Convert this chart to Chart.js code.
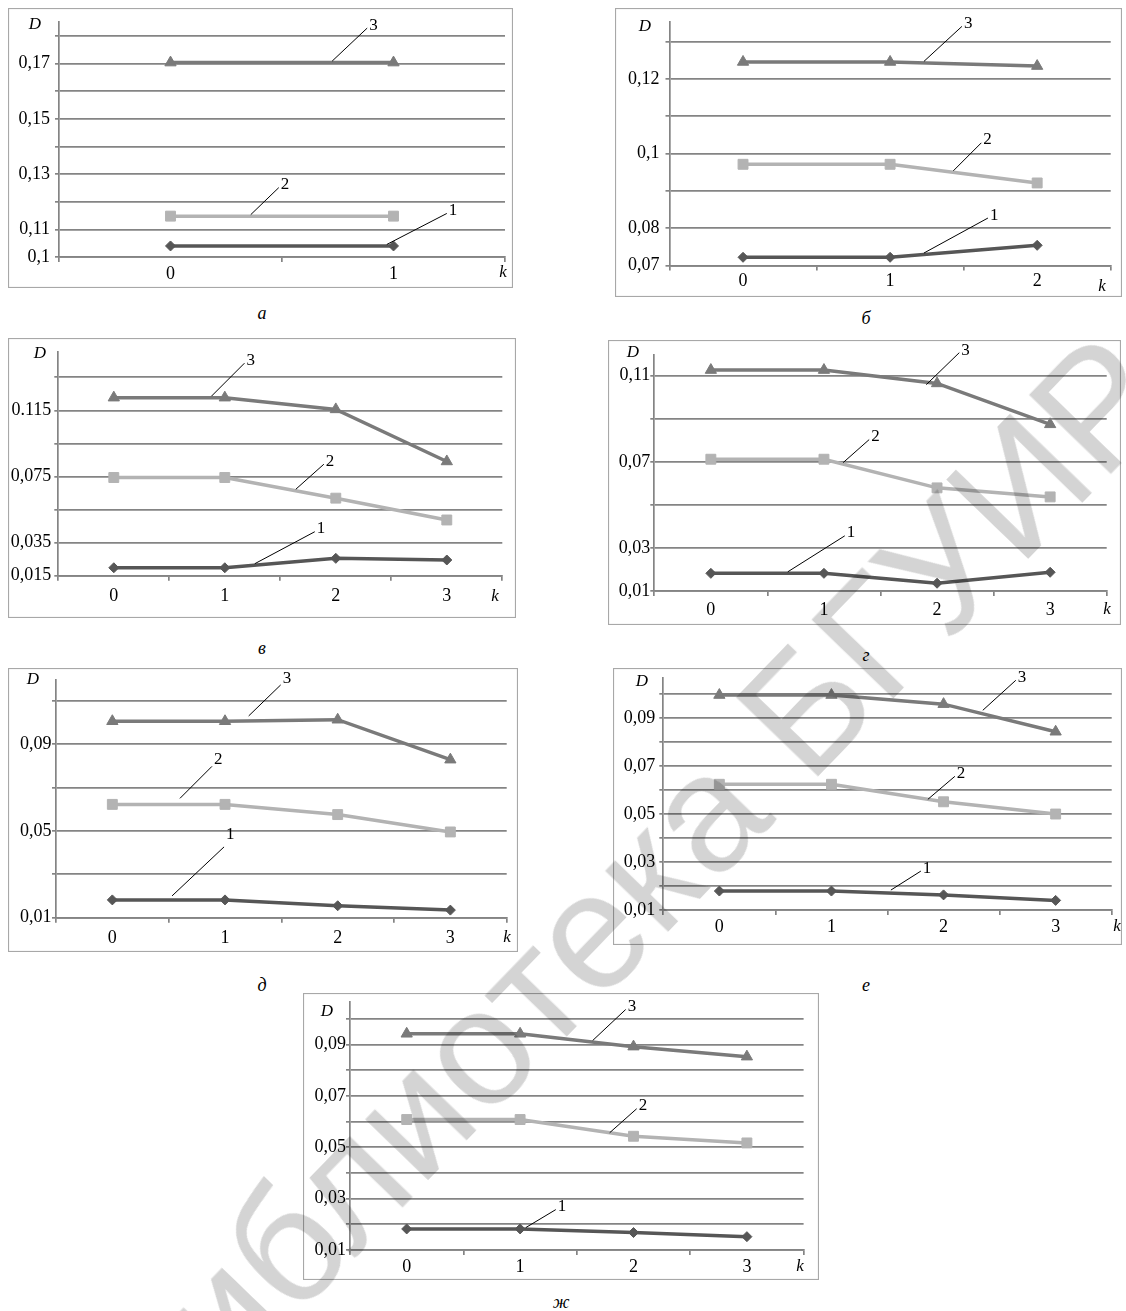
<!DOCTYPE html>
<html>
<head>
<meta charset="utf-8">
<script src="https://cdn.jsdelivr.net/npm/chart.js@4.4.1/dist/chart.umd.min.js"></script>
<style>
html, body { margin: 0; padding: 0; background: #fff; }
body { width: 1126px; height: 1311px; position: relative; overflow: hidden; }
canvas { position: absolute; }
.cap { position: absolute; font: italic 18px 'Liberation Serif', serif; color: #000; transform: translate(-50%, -50%); }
#wm { position: absolute; left: 625px; top: 895px; transform: translate(-50%, -50%) rotate(-46deg);
  font: 165px 'Liberation Sans', sans-serif; color: #d4d4d4; white-space: nowrap;
  mix-blend-mode: multiply; pointer-events: none; }
</style>
</head>
<body>
<script>
// ---- данные ----------------------------------------------------

// а
var kA = ['0', '1'];
var d1A = [0.104, 0.104];
var d2A = [0.1148, 0.1148];
var d3A = [0.1704, 0.1704];
var yA = [0.10, 0.11, 0.12, 0.13, 0.14, 0.15, 0.16, 0.17, 0.18];
var yLabA = ['0,1', '0,11', '', '0,13', '', '0,15', '', '0,17', ''];

// б
var kB = ['0', '1', '2'];
var d1B = [0.0722, 0.0722, 0.0754];
var d2B = [0.0971, 0.0971, 0.0921];
var d3B = [0.1245, 0.1245, 0.1234];
var yB = [0.07, 0.08, 0.09, 0.10, 0.11, 0.12, 0.13];
var yLabB = ['0,07', '0,08', '', '0,1', '', '0,12', ''];

// в
var kV = ['0', '1', '2', '3'];
var d1V = [0.0198, 0.0198, 0.0255, 0.0245];
var d2V = [0.0744, 0.0744, 0.0619, 0.0487];
var d3V = [0.1227, 0.1227, 0.1156, 0.0841];
var yV = [0.015, 0.035, 0.055, 0.075, 0.095, 0.115, 0.135];
var yLabV = ['0,015', '0,035', '', '0,075', '', '0.115', ''];

// г
var kG = ['0', '1', '2', '3'];
var d1G = [0.0182, 0.0182, 0.0136, 0.0187];
var d2G = [0.0712, 0.0712, 0.0579, 0.0537];
var d3G = [0.1126, 0.1126, 0.1064, 0.0874];
var yG = [0.01, 0.03, 0.05, 0.07, 0.09, 0.11];
var yLabG = ['0,01', '0,03', '', '0,07', '', '0,11'];

// д
var kD = ['0', '1', '2', '3'];
var d1D = [0.0182, 0.0182, 0.0155, 0.0135];
var d2D = [0.0622, 0.0622, 0.0575, 0.0495];
var d3D = [0.1005, 0.1005, 0.1012, 0.0828];
var yD = [0.01, 0.03, 0.05, 0.07, 0.09, 0.11];
var yLabD = ['0,01', '', '0,05', '', '0,09', ''];

// е
var kE = ['0', '1', '2', '3'];
var d1E = [0.0179, 0.0179, 0.0163, 0.0140];
var d2E = [0.0624, 0.0624, 0.0551, 0.0500];
var d3E = [0.0996, 0.0996, 0.0958, 0.0843];
var yE = [0.01, 0.02, 0.03, 0.04, 0.05, 0.06, 0.07, 0.08, 0.09, 0.10];
var yLabE = ['0,01', '', '0,03', '', '0,05', '', '0,07', '', '0,09', ''];

// ж
var kZh = ['0', '1', '2', '3'];
var d1Zh = [0.0182, 0.0182, 0.0168, 0.0152];
var d2Zh = [0.0608, 0.0608, 0.0543, 0.0517];
var d3Zh = [0.0942, 0.0942, 0.0892, 0.0853];
var yZh = [0.01, 0.02, 0.03, 0.04, 0.05, 0.06, 0.07, 0.08, 0.09, 0.10];
var yLabZh = ['0,01', '', '0,03', '', '0,05', '', '0,07', '', '0,09', ''];

// ---- оформление -------------------------------------------------
var lineCol = ['#565656', '#b3b3b3', '#7a7a7a'];
var lineW = [3.5, 3.5, 3.5];
var marks = ['rectRot', 'rect', 'triangle'];
var markR = [5, 7, 6.5];
var gridCol = '#848484';
var tickFont = { family: 'Liberation Serif', size: 18 };

// box / plot: [left, top, right, bottom] on the page
var panels = [
  { cap: 'а', k: kA, s: [d1A, d2A, d3A], ticks: yA, lab: yLabA, max: 0.1851,
    box: [8, 8, 513, 288], plot: [59, 22, 507, 257], yPad: 5, xPad: 1,
    D: [35, 25], K: [503, 273], capPos: [262, 313],
    notes: [{ s: 2, f: 0.725, dx: 35, dy: -33, t: '3' }, { s: 1, f: 0.36, dx: 28, dy: -27, t: '2' }, { s: 0, f: 0.97, dx: 60, dy: -31, t: '1' }] },
  { cap: 'б', k: kB, s: [d1B, d2B, d3B], ticks: yB, lab: yLabB, max: 0.1352,
    box: [615, 8, 1122, 297], plot: [669.5, 22, 1110.7, 265.5], yPad: 6, xPad: 0,
    D: [645, 27], K: [1102, 287], capPos: [866, 318],
    notes: [{ s: 2, f: 1.23, dx: 38, dy: -35, t: '3' }, { s: 1, f: 1.43, dx: 28, dy: -28, t: '2' }, { s: 0, f: 1.23, dx: 64, dy: -35, t: '1' }] },
  { cap: 'в', k: kV, s: [d1V, d2V, d3V], ticks: yV, lab: yLabV, max: 0.1505,
    box: [8, 338, 516, 618], plot: [58.3, 351.7, 502.3, 575.7], yPad: 3, xPad: 5,
    D: [40, 354], K: [495, 597], capPos: [262, 648],
    notes: [{ s: 2, f: 0.88, dx: 33, dy: -33, t: '3' }, { s: 1, f: 1.64, dx: 28, dy: -25, t: '2' }, { s: 0, f: 1.27, dx: 60, dy: -32, t: '1' }] },
  { cap: 'г', k: kG, s: [d1G, d2G, d3G], ticks: yG, lab: yLabG, max: 0.1196,
    box: [608, 340, 1121, 625], plot: [654.3, 355, 1106.7, 591], yPad: 0, xPad: 3,
    D: [633, 353], K: [1107, 610], capPos: [866, 655],
    notes: [{ s: 2, f: 1.905, dx: 33, dy: -32, t: '3', gap: -2.5, ly: -2 }, { s: 1, f: 1.17, dx: 26, dy: -23, t: '2' }, { s: 0, f: 0.68, dx: 57, dy: -36, t: '1' }] },
  { cap: 'д', k: kD, s: [d1D, d2D, d3D], ticks: yD, lab: yLabD, max: 0.1195,
    box: [8, 668, 518, 952], plot: [56, 680, 506.7, 917.7], yPad: 0.5, xPad: 5,
    D: [33, 680], K: [507, 938], capPos: [262, 985],
    notes: [{ s: 2, f: 1.21, dx: 32, dy: -31, t: '3', gap: 5, ly: -6 }, { s: 1, f: 0.6, dx: 32, dy: -32, t: '2', gap: 6, ly: -7 },
            { s: 0, f: 0.53, dx: 52, dy: -49, t: '1', gap: 4, ly: -12 }] },
  { cap: 'е', k: kE, s: [d1E, d2E, d3E], ticks: yE, lab: yLabE, max: 0.1067,
    box: [613, 668, 1122, 945], plot: [663.3, 678, 1111.7, 910], yPad: 4, xPad: 1,
    D: [642, 682], K: [1117, 927], capPos: [866, 985],
    notes: [{ s: 2, f: 2.35, dx: 33, dy: -30, t: '3', gap: 3.5 }, { s: 1, f: 1.86, dx: 27, dy: -23, t: '2', gap: 0 }, { s: 0, f: 1.53, dx: 30, dy: -19, t: '1', gap: 3 }] },
  { cap: 'ж', k: kZh, s: [d1Zh, d2Zh, d3Zh], ticks: yZh, lab: yLabZh, max: 0.1067,
    box: [303, 993, 819, 1280], plot: [350, 1001.7, 803.6, 1250], yPad: 0, xPad: 1,
    D: [327, 1012], K: [800, 1267], capPos: [561, 1302],
    notes: [{ s: 2, f: 1.64, dx: 33, dy: -31, t: '3' }, { s: 1, f: 1.79, dx: 27, dy: -24, t: '2', gap: 0 }, { s: 0, f: 1.05, dx: 30, dy: -18, t: '1' }] }
];

// рамка, подписи осей D и k, выноски 1-2-3
function deco(p) {
  return {
    id: 'deco',
    afterDraw: function (chart) {
      var ctx = chart.ctx, W = chart.width, H = chart.height;
      var ox = p.box[0], oy = p.box[1];
      var xs = chart.scales.x, ys = chart.scales.y;
      ctx.save();
      ctx.strokeStyle = '#a8a8a8';
      ctx.lineWidth = 1.2;
      ctx.strokeRect(0.5, 0.5, W - 1, H - 1);

      ctx.fillStyle = '#000';
      ctx.font = 'italic 17px "Liberation Serif"';
      ctx.textAlign = 'center';
      ctx.textBaseline = 'middle';
      ctx.fillText('D', p.D[0] - ox, p.D[1] - oy);
      ctx.fillText('k', p.K[0] - ox, p.K[1] - oy);

      ctx.font = '17px "Liberation Serif"';
      ctx.textAlign = 'left';
      ctx.strokeStyle = '#000';
      ctx.lineWidth = 1;
      p.notes.forEach(function (n) {
        var d = p.s[n.s];
        var i0 = Math.min(Math.floor(n.f), d.length - 2), t = n.f - i0;
        var x0 = xs.getPixelForValue(i0), x1 = xs.getPixelForValue(i0 + 1);
        var y0 = ys.getPixelForValue(d[i0]), y1 = ys.getPixelForValue(d[i0 + 1]);
        var sx = x0 + (x1 - x0) * t;
        var sy = y0 + (y1 - y0) * t - (n.gap == null ? 1.5 : n.gap);
        var ex = sx + n.dx, ey = sy + n.dy;
        ctx.beginPath();
        ctx.moveTo(sx, sy);
        ctx.lineTo(ex, ey);
        ctx.stroke();
        ctx.fillText(n.t, ex + (n.lx == null ? 2 : n.lx), ey + (n.ly == null ? -3 : n.ly));
      });
      ctx.restore();
    }
  };
}

panels.forEach(function (p) {
  var W = p.box[2] - p.box[0], H = p.box[3] - p.box[1];
  var cl = p.plot[0] - p.box[0], ct = p.plot[1] - p.box[1];
  var cr = p.plot[2] - p.box[0], cb = p.plot[3] - p.box[1];

  var cv = document.createElement('canvas');
  cv.width = W; cv.height = H;
  cv.style.left = p.box[0] + 'px';
  cv.style.top = p.box[1] + 'px';
  document.body.appendChild(cv);

  var cap = document.createElement('div');
  cap.className = 'cap';
  cap.textContent = p.cap;
  cap.style.left = p.capPos[0] + 'px';
  cap.style.top = p.capPos[1] + 'px';
  document.body.appendChild(cap);

  new Chart(cv, {
    type: 'line',
    data: {
      labels: p.k,
      datasets: p.s.map(function (d, i) {
        return {
          data: d,
          borderColor: lineCol[i],
          backgroundColor: lineCol[i],
          borderWidth: lineW[i],
          pointStyle: marks[i],
          pointRadius: markR[i],
          pointBackgroundColor: lineCol[i],
          pointBorderColor: lineCol[i],
          pointBorderWidth: 1,
          tension: 0,
          fill: false
        };
      })
    },
    options: {
      responsive: false,
      animation: false,
      events: [],
      layout: { padding: { left: 0, top: ct, right: W - cr, bottom: 0 } },
      plugins: { legend: { display: false }, tooltip: { enabled: false } },
      scales: {
        x: {
          type: 'category',
          offset: true,
          grid: { offset: true, drawOnChartArea: false, drawTicks: true, tickLength: 5, color: gridCol, lineWidth: 1.7 },
          border: { color: gridCol, width: 1.7 },
          ticks: { font: tickFont, color: '#000', padding: p.xPad, maxRotation: 0, autoSkip: false },
          afterFit: function (s) { s.height = H - cb; s.paddingLeft = 0; s.paddingRight = 0; }
        },
        y: {
          type: 'linear',
          min: p.ticks[0],
          max: p.max,
          afterBuildTicks: function (s) { s.ticks = p.ticks.map(function (v) { return { value: v }; }); },
          grid: { color: gridCol, lineWidth: 1.7, tickLength: 4 },
          border: { color: gridCol, width: 1.7 },
          ticks: { font: tickFont, color: '#000', padding: p.yPad, callback: function (v, i) { return p.lab[i]; } },
          afterFit: function (s) { s.width = cl; s.paddingTop = 0; s.paddingBottom = 0; }
        }
      }
    },
    plugins: [deco(p)]
  });
});

var wm = document.createElement('div');
wm.id = 'wm';
wm.textContent = 'Библиотека БГУИР';
document.body.appendChild(wm);
</script>
</body>
</html>
